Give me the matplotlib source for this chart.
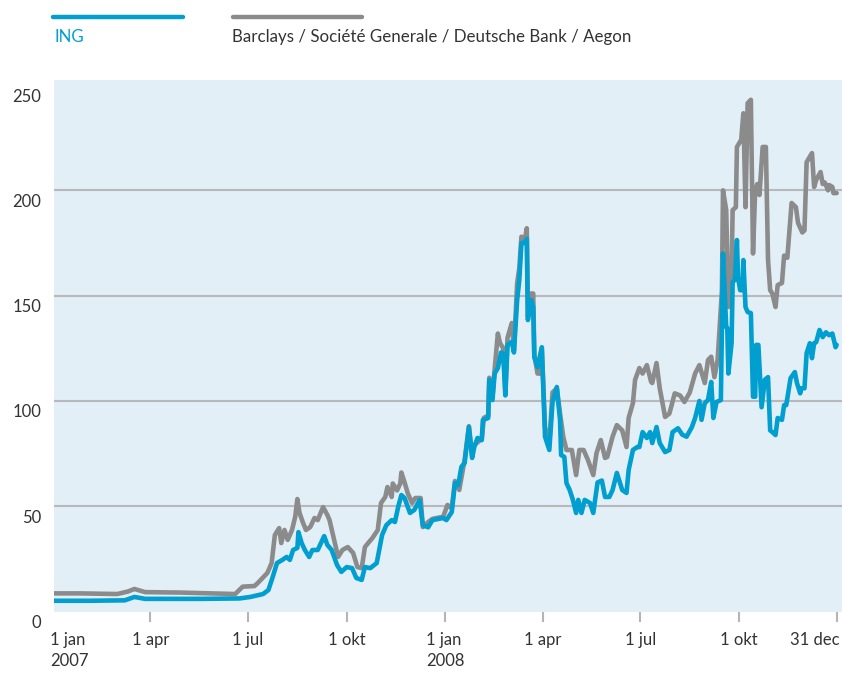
import matplotlib
matplotlib.use("Agg")
import matplotlib.pyplot as plt
import matplotlib.transforms as mtransforms
from matplotlib.lines import Line2D
import pandas as pd

plt.rcParams['font.family'] = ['Lato', 'DejaVu Sans']

# ---------------- data ----------------
ing_dates = [
    '2007-01-01', '2007-02-04', '2007-03-08', '2007-03-17', '2007-03-27', '2007-05-17',
    '2007-06-23', '2007-07-03', '2007-07-15', '2007-07-20', '2007-07-24', '2007-07-28',
    '2007-08-02', '2007-08-06', '2007-08-09', '2007-08-12', '2007-08-16', '2007-08-17',
    '2007-08-20', '2007-08-23', '2007-08-27', '2007-08-30', '2007-09-04', '2007-09-10',
    '2007-09-13', '2007-09-17', '2007-09-22', '2007-09-26', '2007-10-01', '2007-10-06',
    '2007-10-10', '2007-10-15', '2007-10-18', '2007-10-23', '2007-10-29', '2007-11-03',
    '2007-11-07', '2007-11-12', '2007-11-15', '2007-11-18', '2007-11-21', '2007-11-24',
    '2007-11-29', '2007-12-03', '2007-12-08', '2007-12-11', '2007-12-16', '2007-12-20',
    '2007-12-30', '2008-01-02', '2008-01-07', '2008-01-10', '2008-01-13', '2008-01-16',
    '2008-01-19', '2008-01-23', '2008-01-26', '2008-01-28', '2008-01-31', '2008-02-04',
    '2008-02-05', '2008-02-10', '2008-02-11', '2008-02-14', '2008-02-16', '2008-02-19',
    '2008-02-22', '2008-02-24', '2008-02-26', '2008-02-28', '2008-03-03', '2008-03-05',
    '2008-03-08', '2008-03-10', '2008-03-12', '2008-03-15', '2008-03-17', '2008-03-18',
    '2008-03-21', '2008-03-23', '2008-03-24', '2008-03-27', '2008-03-31', '2008-04-03',
    '2008-04-07', '2008-04-10', '2008-04-14', '2008-04-17', '2008-04-18', '2008-04-21',
    '2008-04-23', '2008-04-26', '2008-04-29', '2008-05-02', '2008-05-04', '2008-05-07',
    '2008-05-10', '2008-05-15', '2008-05-18', '2008-05-22', '2008-05-26', '2008-05-29',
    '2008-06-02', '2008-06-05', '2008-06-09', '2008-06-14', '2008-06-18', '2008-06-20',
    '2008-06-24', '2008-06-28', '2008-06-30', '2008-07-03', '2008-07-07', '2008-07-10',
    '2008-07-12', '2008-07-16', '2008-07-19', '2008-07-24', '2008-07-28', '2008-07-31',
    '2008-08-05', '2008-08-09', '2008-08-13', '2008-08-18', '2008-08-21', '2008-08-25',
    '2008-08-27', '2008-08-30', '2008-09-02', '2008-09-05', '2008-09-07', '2008-09-10',
    '2008-09-14', '2008-09-16', '2008-09-19', '2008-09-20', '2008-09-21', '2008-09-24',
    '2008-09-25', '2008-09-27', '2008-09-29', '2008-09-30', '2008-10-02', '2008-10-04',
    '2008-10-05', '2008-10-07', '2008-10-09', '2008-10-12', '2008-10-14', '2008-10-16',
    '2008-10-17', '2008-10-19', '2008-10-22', '2008-10-25', '2008-10-28', '2008-10-30',
    '2008-11-01', '2008-11-04', '2008-11-06', '2008-11-10', '2008-11-12', '2008-11-14',
    '2008-11-18', '2008-11-22', '2008-11-24', '2008-11-27', '2008-11-28', '2008-12-01',
    '2008-12-03', '2008-12-06', '2008-12-08', '2008-12-10', '2008-12-12', '2008-12-15',
    '2008-12-18', '2008-12-21', '2008-12-24', '2008-12-27', '2008-12-30', '2008-12-31',
]
ing_values = [
    5.1, 5.1, 5.3, 6.9, 6.0, 6.0,
    6.2, 6.9, 8.3, 10.2, 16.4, 23.0,
    24.5, 25.9, 24.5, 29.2, 30.2, 37.7,
    32.5, 29.2, 25.9, 29.2, 29.2, 35.8,
    31.6, 29.2, 22.1, 18.8, 21.1, 20.6,
    15.9, 15.0, 21.1, 20.6, 23.0, 36.3,
    41.0, 43.4, 42.5, 49.6, 55.3, 53.9,
    46.8, 48.2, 52.9, 41.0, 40.0, 43.4,
    44.4, 43.4, 47.2, 61.0, 60.0, 68.7,
    70.5, 87.6, 72.9, 78.1, 82.4, 81.4,
    90.9, 91.9, 110.0, 100.4, 113.0, 115.6,
    123.0, 122.5, 102.6, 126.6, 128.0, 123.0,
    147.9, 157.4, 175.0, 175.0, 177.0, 138.4,
    147.9, 144.5, 120.8, 116.0, 125.5, 83.0,
    76.7, 99.5, 106.6, 91.0, 74.3, 73.4,
    61.0, 57.7, 53.0, 46.8, 53.0, 46.8,
    53.0, 51.5, 46.8, 61.3, 62.2, 54.4,
    54.4, 57.7, 65.8, 57.7, 56.3, 67.2,
    76.7, 78.1, 78.1, 85.2, 82.4, 85.2,
    80.0, 87.6, 80.0, 75.7, 76.7, 85.2,
    87.0, 84.0, 83.0, 87.6, 91.9, 100.0,
    91.0, 99.0, 100.4, 109.0, 91.9, 99.5,
    100.4, 170.0, 135.0, 134.6, 113.0, 127.4,
    156.5, 157.4, 176.4, 158.8, 152.6, 152.6,
    166.9, 144.6, 142.2, 141.7, 102.0, 102.0,
    126.6, 126.6, 97.0, 110.0, 111.3, 86.0,
    85.2, 83.8, 91.9, 91.0, 98.0, 98.0,
    110.8, 113.7, 108.5, 103.6, 106.0, 106.0,
    122.7, 127.4, 120.3, 127.4, 128.0, 133.7,
    130.3, 132.6, 131.2, 132.0, 125.5, 126.6,
]

peer_dates = [
    '2007-01-01', '2007-01-25', '2007-03-01', '2007-03-11', '2007-03-17', '2007-03-27',
    '2007-04-28', '2007-05-26', '2007-06-19', '2007-06-26', '2007-07-07', '2007-07-10',
    '2007-07-19', '2007-07-23', '2007-07-26', '2007-07-30', '2007-08-01', '2007-08-04',
    '2007-08-07', '2007-08-11', '2007-08-14', '2007-08-16', '2007-08-18', '2007-08-21',
    '2007-08-24', '2007-08-28', '2007-09-01', '2007-09-04', '2007-09-09', '2007-09-13',
    '2007-09-15', '2007-09-20', '2007-09-23', '2007-09-27', '2007-10-02', '2007-10-07',
    '2007-10-11', '2007-10-15', '2007-10-18', '2007-10-21', '2007-10-25', '2007-10-30',
    '2007-11-02', '2007-11-06', '2007-11-08', '2007-11-12', '2007-11-13', '2007-11-17',
    '2007-11-20', '2007-11-21', '2007-11-24', '2007-11-27', '2007-12-01', '2007-12-04',
    '2007-12-09', '2007-12-11', '2007-12-16', '2007-12-20', '2007-12-30', '2008-01-03',
    '2008-01-07', '2008-01-10', '2008-01-14', '2008-01-19', '2008-01-23', '2008-01-26',
    '2008-01-28', '2008-02-04', '2008-02-06', '2008-02-10', '2008-02-11', '2008-02-14',
    '2008-02-16', '2008-02-19', '2008-02-21', '2008-02-24', '2008-02-26', '2008-02-28',
    '2008-03-03', '2008-03-05', '2008-03-08', '2008-03-10', '2008-03-12', '2008-03-15',
    '2008-03-17', '2008-03-18', '2008-03-21', '2008-03-23', '2008-03-24', '2008-03-27',
    '2008-03-29', '2008-03-31', '2008-04-03', '2008-04-07', '2008-04-10', '2008-04-14',
    '2008-04-17', '2008-04-20', '2008-04-23', '2008-04-28', '2008-05-02', '2008-05-05',
    '2008-05-09', '2008-05-13', '2008-05-18', '2008-05-21', '2008-05-25', '2008-05-29',
    '2008-05-31', '2008-06-05', '2008-06-09', '2008-06-14', '2008-06-18', '2008-06-20',
    '2008-06-24', '2008-06-26', '2008-06-30', '2008-07-03', '2008-07-07', '2008-07-11',
    '2008-07-12', '2008-07-16', '2008-07-19', '2008-07-24', '2008-07-28', '2008-08-02',
    '2008-08-07', '2008-08-11', '2008-08-16', '2008-08-21', '2008-08-25', '2008-08-30',
    '2008-09-02', '2008-09-05', '2008-09-08', '2008-09-11', '2008-09-15', '2008-09-16',
    '2008-09-19', '2008-09-21', '2008-09-24', '2008-09-25', '2008-09-28', '2008-09-29',
    '2008-10-03', '2008-10-05', '2008-10-07', '2008-10-09', '2008-10-12', '2008-10-14',
    '2008-10-16', '2008-10-18', '2008-10-20', '2008-10-23', '2008-10-26', '2008-10-28',
    '2008-10-30', '2008-11-01', '2008-11-04', '2008-11-06', '2008-11-10', '2008-11-12',
    '2008-11-15', '2008-11-19', '2008-11-23', '2008-11-25', '2008-11-29', '2008-12-01',
    '2008-12-03', '2008-12-08', '2008-12-10', '2008-12-12', '2008-12-16', '2008-12-18',
    '2008-12-20', '2008-12-23', '2008-12-24', '2008-12-27', '2008-12-28', '2008-12-31',
]
peer_values = [
    8.6, 8.6, 8.3, 9.5, 10.7, 9.2,
    9.0, 8.6, 8.3, 11.8, 12.1, 13.5,
    18.3, 23.0, 36.3, 39.6, 32.5, 38.7,
    34.0, 38.7, 45.0, 53.4, 46.8, 42.5,
    38.7, 40.1, 44.4, 43.4, 49.6, 45.8,
    43.4, 32.5, 25.9, 29.2, 30.6, 27.8,
    21.1, 20.6, 30.6, 32.5, 34.9, 38.7,
    51.5, 54.4, 59.1, 54.4, 60.8, 57.5,
    60.8, 66.0, 61.3, 56.1, 51.5, 53.9,
    53.9, 40.1, 42.5, 44.0, 45.0, 50.6,
    49.0, 62.0, 57.7, 72.0, 88.0, 74.0,
    79.0, 82.0, 92.0, 93.0, 111.0, 102.0,
    115.0, 132.0, 127.5, 125.0, 104.0, 130.0,
    137.0, 124.0, 156.0, 163.0, 178.0, 176.0,
    182.0, 140.0, 151.0, 151.0, 122.0, 113.0,
    113.0, 125.0, 87.6, 80.0, 104.0, 106.0,
    94.0, 83.0, 76.7, 76.7, 64.8, 76.7,
    76.7, 72.0, 64.8, 75.2, 81.4, 72.9,
    73.4, 83.0, 88.5, 86.0, 78.1, 91.9,
    99.0, 110.0, 115.6, 113.0, 117.0, 109.0,
    108.5, 118.0, 106.0, 92.4, 94.0, 103.6,
    102.6, 99.5, 104.0, 113.0, 117.0, 108.5,
    119.4, 121.0, 111.3, 119.4, 152.6, 200.0,
    190.6, 144.6, 160.7, 190.6, 192.0, 220.6,
    224.0, 236.6, 192.0, 241.4, 243.0, 170.0,
    200.0, 203.0, 197.8, 220.6, 220.6, 167.0,
    152.6, 151.0, 144.6, 155.0, 156.0, 169.0,
    168.0, 194.0, 192.0, 184.5, 180.0, 181.0,
    213.4, 217.7, 201.6, 205.0, 208.7, 203.0,
    203.7, 200.0, 202.5, 201.6, 198.7, 198.7,
]

y_ticks = [0, 50, 100, 150, 200, 250]
x_tick_dates = ['2007-01-01', '2007-04-01', '2007-07-01', '2007-10-01',
                '2008-01-01', '2008-04-01', '2008-07-01', '2008-10-01', '2008-12-31']
x_tick_labels = ['1 jan\n2007', '1 apr', '1 jul', '1 okt',
                 '1 jan\n2008', '1 apr', '1 jul', '1 okt', '31 dec']
series_names = ['ING', 'Barclays / Société Generale / Deutsche Bank / Aegon']

# ---------------- style ----------------
BLUE = '#009fcf'
GRAY = '#8b8b8b'
BG = '#e2eff6'
GRID = '#b9b9bd'
TICK = '#b5b5b5'
TEXT = '#333333'
W, H = 842, 673

fig = plt.figure(figsize=(W / 100, H / 100), dpi=100)
ax = fig.add_axes([54 / W, 1 - 611.5 / H, (842 - 54) / W, (611.5 - 80) / H])
ax.set_facecolor(BG)

ax.plot(pd.to_datetime(peer_dates), peer_values, color=GRAY, lw=3.3,
        solid_joinstyle='round', solid_capstyle='round', zorder=3)
ax.plot(pd.to_datetime(ing_dates), ing_values, color=BLUE, lw=3.3,
        solid_joinstyle='round', solid_capstyle='round', zorder=4)

ax.set_xlim(pd.Timestamp('2007-01-01'), pd.Timestamp('2009-01-05'))
ax.set_ylim(0, 252.4)
for s in ax.spines.values():
    s.set_visible(False)

# y axis
ax.set_yticks(y_ticks)
ax.set_yticklabels([str(v) for v in y_ticks])
ax.tick_params(axis='y', length=0, pad=9, labelsize=12, labelcolor=TEXT)
ax.yaxis.grid(True, color=GRID, lw=1.5)
ax.set_axisbelow(True)
gls = ax.get_ygridlines()
gls[0].set_visible(False)
gls[-1].set_visible(False)
for lbl in ax.get_yticklabels():
    lbl.set_transform(lbl.get_transform() +
                      mtransforms.ScaledTranslation(0, -10 / 100, fig.dpi_scale_trans))

# x axis
ax.set_xticks(pd.to_datetime(x_tick_dates))
ax.set_xticklabels(x_tick_labels)
ax.tick_params(axis='x', length=7, width=1.5, color=TICK, pad=8,
               labelsize=12, labelcolor=TEXT)
ax.xaxis.get_major_ticks()[0].tick1line.set_visible(False)
xl = ax.get_xticklabels()
for i, lbl in enumerate(xl):
    lbl.set_multialignment('left')
    lbl.set_linespacing(1.35)
    if i == 0:
        lbl.set_horizontalalignment('left')
        lbl.set_transform(lbl.get_transform() +
                          mtransforms.ScaledTranslation(-4 / 100, 0, fig.dpi_scale_trans))
    elif i == len(xl) - 1:
        lbl.set_horizontalalignment('right')
        lbl.set_transform(lbl.get_transform() +
                          mtransforms.ScaledTranslation(3 / 100, 0, fig.dpi_scale_trans))

# legend (top)
fig.add_artist(Line2D([53 / W, 183 / W], [1 - 17 / H] * 2, color=BLUE, lw=3.2,
                      solid_capstyle='round', transform=fig.transFigure))
fig.add_artist(Line2D([233 / W, 362 / W], [1 - 17 / H] * 2, color=GRAY, lw=3.2,
                      solid_capstyle='round', transform=fig.transFigure))
fig.text(54 / W, 1 - 37 / H, series_names[0], color=BLUE, fontsize=12.2,
         va='center', ha='left')
fig.text(232 / W, 1 - 37 / H, series_names[1], color=TEXT, fontsize=12.2,
         va='center', ha='left')

fig.savefig('out.png', dpi=100)
